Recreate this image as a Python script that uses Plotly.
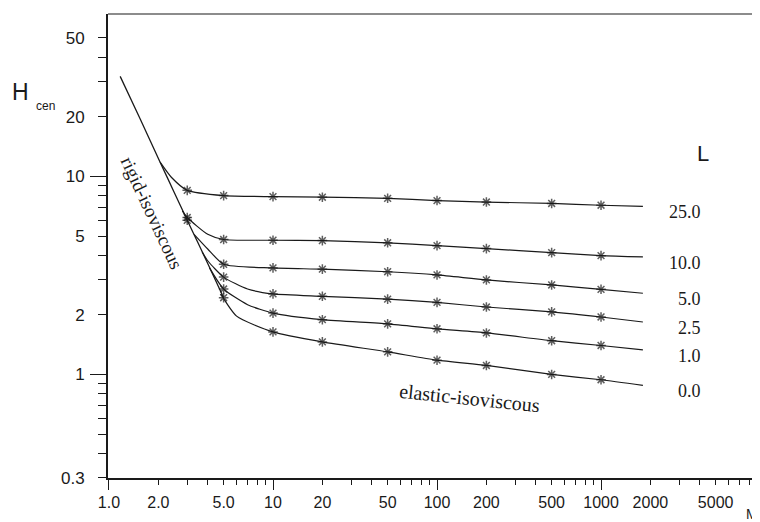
import math
import plotly.graph_objects as go

# ---- data ----
M_RIGID = [1.17, 1.55, 2.05, 2.5, 3.0, 3.5, 4.0, 5.0]
H_RIGID = [32.0, 19.5, 11.8, 8.3, 6.0, 4.6, 3.63, 2.44]

L_LABELS = ["25.0", "10.0", "5.0", "2.5", "1.0", "0.0"]

M_L25 = [2.05, 2.4, 3, 5, 10, 20, 50, 100, 200, 500, 1000, 1800]
H_L25 = [11.8, 9.9, 8.5, 8.0, 7.9, 7.85, 7.75, 7.55, 7.42, 7.3, 7.15, 7.05]

M_L10 = [2.8, 3, 4, 5, 10, 20, 50, 100, 200, 500, 1000, 1800]
H_L10 = [6.7, 6.2, 5.1, 4.8, 4.76, 4.74, 4.62, 4.47, 4.32, 4.12, 3.98, 3.92]

M_L5 = [3.3, 4, 5, 10, 20, 50, 100, 200, 500, 1000, 1800]
H_L5 = [5.1, 4.3, 3.6, 3.45, 3.40, 3.30, 3.18, 3.0, 2.83, 2.69, 2.57]

M_L2_5 = [3.7, 4, 5, 7, 10, 20, 50, 100, 200, 500, 1000, 1800]
H_L2_5 = [4.15, 3.75, 3.1, 2.7, 2.55, 2.48, 2.40, 2.31, 2.19, 2.07, 1.95, 1.84]

M_L1 = [4.1, 5, 7, 10, 20, 50, 100, 200, 500, 1000, 1800]
H_L1 = [3.45, 2.7, 2.25, 2.04, 1.89, 1.80, 1.70, 1.62, 1.48, 1.40, 1.33]

M_L0 = [4.8, 6, 10, 20, 50, 100, 200, 500, 1000, 1800]
H_L0 = [2.55, 1.97, 1.64, 1.46, 1.30, 1.18, 1.11, 1.0, 0.94, 0.88]

MARKED_M = [3, 5, 10, 20, 50, 100, 200, 500, 1000]

X_TICKS = [1, 2, 5, 10, 20, 50, 100, 200, 500, 1000, 2000, 5000]
X_TICKTEXT = ["1.0", "2.0", "5.0", "10", "20", "50", "100", "200", "500", "1000", "2000", "5000"]
X_DECADES = [1, 10, 100, 1000]
X_MINOR = [3, 4, 6, 7, 8, 9, 30, 40, 60, 70, 80, 90, 300, 400, 600, 700, 800, 900,
           3000, 4000, 6000, 7000, 8000, 9000]

Y_TICKS = [0.3, 1, 2, 5, 10, 20, 50]
Y_TICKTEXT = ["0.3", "1", "2", "5", "10", "20", "50"]
Y_DECADES = [1, 10]
Y_MINOR = [0.4, 0.5, 0.6, 0.7, 0.8, 0.9, 3, 4, 6, 7, 8, 9, 30, 40]

curves = [(M_L25, H_L25), (M_L10, H_L10), (M_L5, H_L5),
          (M_L2_5, H_L2_5), (M_L1, H_L1), (M_L0, H_L0)]

INK = "#1a1a1a"
fig = go.Figure()

fig.add_trace(go.Scatter(
    x=M_RIGID, y=H_RIGID, mode="lines+markers",
    line=dict(color=INK, width=1.3, shape="spline", smoothing=0.5),
    marker=dict(symbol="asterisk-open", color=INK,
                size=[8 if m in MARKED_M else 0 for m in M_RIGID],
                line=dict(color=INK, width=1.5)),
    showlegend=False, hoverinfo="skip"))

for (mx, hy) in curves:
    fig.add_trace(go.Scatter(
        x=mx, y=hy, mode="lines+markers",
        line=dict(color=INK, width=1.2, shape="spline", smoothing=0.6),
        marker=dict(symbol="asterisk-open", color=INK,
                    size=[8 if m in MARKED_M else 0 for m in mx],
                    line=dict(color=INK, width=1.5)),
        showlegend=False, hoverinfo="skip"))

# curve labels at the right
for lab, (mx, hy) in zip(L_LABELS, curves):
    fig.add_annotation(x=3.62, y=math.log10(hy[-1]), xref="x", yref="y",
                       text=lab, showarrow=False, xanchor="right", yanchor="middle",
                       yshift=-6, font=dict(family="Liberation Serif", size=18, color=INK))

tick_font = dict(family="Liberation Sans", size=16, color=INK)

# page has an 8px body margin; margins compensate for it
x_range = [-0.006, 4.018]
y_range = [-0.523, 1.820]

fig.update_layout(
    width=760, height=522,
    margin=dict(l=100, r=0, t=6, b=52),
    paper_bgcolor="white", plot_bgcolor="white",
    xaxis=dict(type="log", range=x_range, tickvals=X_TICKS, ticktext=X_TICKTEXT,
               ticks="outside", ticklen=5, tickwidth=1.2, tickcolor=INK,
               showline=True, linewidth=1.5, linecolor=INK, showgrid=False, zeroline=False,
               tickfont=tick_font, ticklabelstandoff=4,
               minor=dict(tickvals=X_MINOR, ticks="outside", ticklen=5, tickwidth=1.2,
                          tickcolor=INK, showgrid=False)),
    xaxis2=dict(type="log", range=x_range, overlaying="x", anchor="y", side="bottom",
                tickvals=X_DECADES, ticks="outside", ticklen=11, tickwidth=1.4, tickcolor=INK,
                showticklabels=False, showgrid=False, zeroline=False, showline=False),
    yaxis=dict(type="log", range=y_range, tickvals=Y_TICKS, ticktext=Y_TICKTEXT,
               ticks="outside", ticklen=8, tickwidth=1.2, tickcolor=INK,
               showline=True, linewidth=2, linecolor=INK, showgrid=False, zeroline=False,
               tickfont=dict(family="Liberation Sans", size=17, color=INK),
               ticklabelstandoff=10,
               minor=dict(tickvals=Y_MINOR, ticks="outside", ticklen=8, tickwidth=1.2,
                          tickcolor=INK, showgrid=False)),
    yaxis2=dict(type="log", range=y_range, overlaying="y", anchor="x", side="left",
                tickvals=Y_DECADES, ticks="outside", ticklen=17, tickwidth=1.4, tickcolor=INK,
                showticklabels=False, showgrid=False, zeroline=False, showline=False),
)

# invisible trace to activate overlay axes
fig.add_trace(go.Scatter(x=[1], y=[1], xaxis="x2", yaxis="y2", mode="markers",
                         marker=dict(opacity=0), showlegend=False, hoverinfo="skip"))

# top frame line
fig.add_shape(type="line", xref="paper", yref="paper", x0=0, x1=1, y0=1, y1=1,
              line=dict(color=INK, width=1.2))

# text labels
fig.add_annotation(x=0.0, y=1.0, xref="paper", yref="paper", text="H", showarrow=False,
                   xanchor="center", yanchor="middle", xshift=-88, yshift=-78,
                   font=dict(family="Liberation Sans", size=23, color=INK))
fig.add_annotation(x=0.0, y=1.0, xref="paper", yref="paper", text="cen", showarrow=False,
                   xanchor="center", yanchor="middle", xshift=-63, yshift=-92,
                   font=dict(family="Liberation Sans", size=12, color=INK))
fig.add_annotation(x=1.0, y=1.0, xref="paper", yref="paper", text="L", showarrow=False,
                   xanchor="center", yanchor="middle", xshift=-65, yshift=-139,
                   font=dict(family="Liberation Sans", size=22, color=INK))
fig.add_annotation(x=1.0, y=0.0, xref="paper", yref="paper", text="M", showarrow=False,
                   xanchor="center", yanchor="middle", xshift=-16, yshift=-36,
                   font=dict(family="Liberation Sans", size=14, color=INK))
fig.add_annotation(x=0.0, y=1.0, xref="paper", yref="paper", text="rigid-isoviscous",
                   showarrow=False, textangle=65, xanchor="center", yanchor="middle",
                   xshift=44, yshift=-198,
                   font=dict(family="Liberation Serif", size=19, color=INK))
fig.add_annotation(x=0.0, y=1.0, xref="paper", yref="paper", text="elastic-isoviscous",
                   showarrow=False, textangle=6, xanchor="center", yanchor="middle",
                   xshift=361, yshift=-384,
                   font=dict(family="Liberation Serif", size=20, color=INK))

fig.write_html("out.html")
